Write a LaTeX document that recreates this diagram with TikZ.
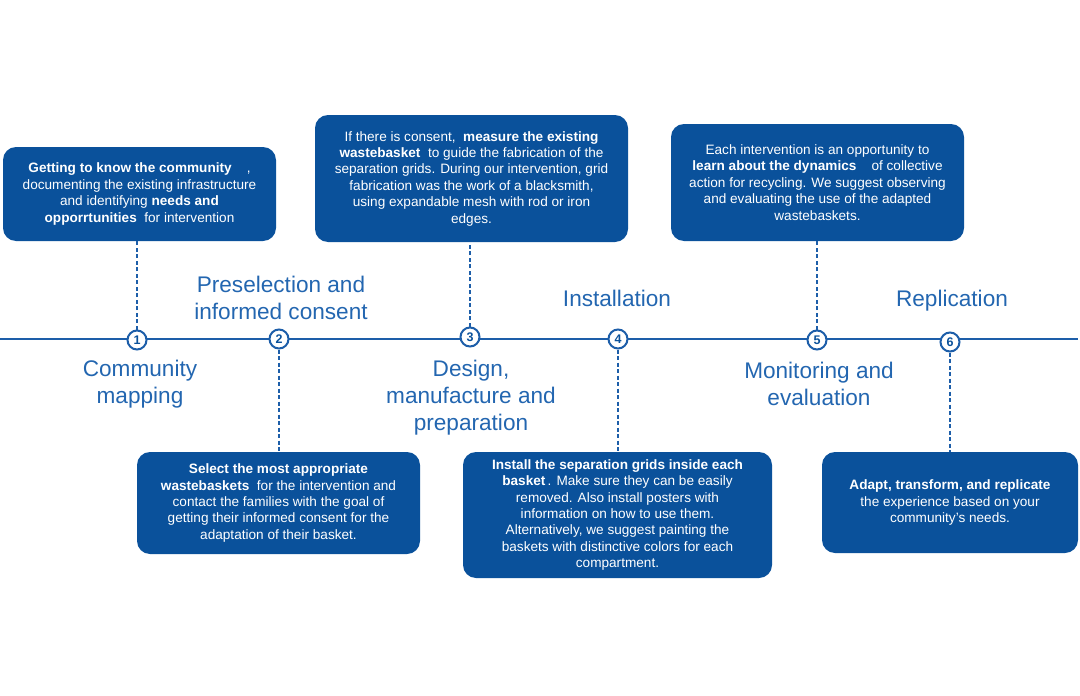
\documentclass[tikz,border=0pt]{standalone}
\usepackage{fontspec}
\setmainfont{Liberation Sans}
\usetikzlibrary{positioning}

\definecolor{boxblue}{HTML}{0A519B}
\definecolor{lineblue}{HTML}{1D5EA9}
\definecolor{textblue}{HTML}{2366B0}

\begin{document}
\begin{tikzpicture}[x=1pt,y=-1pt,
	box/.style={fill=boxblue, rounded corners=13pt, text=white, align=center,
		inner sep=0pt, font=\fontsize{13.6}{16.4}\selectfont},
	stepnum/.style={circle, draw=lineblue, line width=2pt, fill=white,
		minimum size=19pt, inner sep=0pt, text=boxblue,
		font=\fontsize{12.5}{12.5}\selectfont\bfseries},
	phase/.style={text=textblue, align=center, font=\fontsize{22.6}{27}\selectfont},
	link/.style={lineblue, line width=1.5pt, dash pattern=on 4pt off 2.5pt}]
	
	\useasboundingbox (0,0) rectangle (1080,696);
	
	% Linea de tiempo
	\draw[lineblue, line width=2pt] (0,339) -- (1078,339);
	
	% Cajas de texto
	\node[box, minimum width=273pt, minimum height=94pt] (b1) at (139.5,194)
		{\textbf{Getting to know the community}\ \ \ \ ,\\
		documenting the existing infrastructure\\
		and identifying \textbf{needs and}\\
		\textbf{opporrtunities}\ \ for intervention};
	\node[box, minimum width=283pt, minimum height=102pt] (b2) at (278.5,503)
		{\textbf{Select the most appropriate}\\
		\textbf{wastebaskets}\ \ for the intervention and\\
		contact the families with the goal of\\
		getting their informed consent for the\\
		adaptation of their basket.};
	\node[box, minimum width=313pt, minimum height=127pt] (b3) at (471.5,178.5)
		{If there is consent,\ \ \textbf{measure the existing}\\
		\textbf{wastebasket}\ \ to guide the fabrication of the\\
		separation grids. During our intervention, grid\\
		fabrication was the work of a blacksmith,\\
		using expandable mesh with rod or iron\\
		edges.};
	\node[box, minimum width=309pt, minimum height=126pt] (b4) at (617.5,515)
		{\textbf{Install the separation grids inside each}\\
		\textbf{basket}\,. Make sure they can be easily\\
		removed. Also install posters with\\
		information on how to use them.\\
		Alternatively, we suggest painting the\\
		baskets with distinctive colors for each\\
		compartment.};
	\node[box, minimum width=293pt, minimum height=117pt] (b5) at (817.5,182.5)
		{Each intervention is an opportunity to\\
		\textbf{learn about the dynamics}\ \ \ \ of collective\\
		action for recycling. We suggest observing\\
		and evaluating the use of the adapted\\
		wastebaskets.};
	\node[box, minimum width=256pt, minimum height=101pt] (b6) at (950,502.5)
		{\textbf{Adapt, transform, and replicate}\\
		the experience based on your\\
		community's needs.};
	
	% Pasos numerados y lineas punteadas
	\foreach \n/\x/\y/\side in {1/137/340/south, 2/279/339/north, 3/470/337/south,
		4/618/339/north, 5/817/340/south, 6/950/342/north} {
		\node[stepnum] (s\n) at (\x,\y) {\n};
		\draw[link] (s\n) -- (s\n |- b\n.\side);
	}
	
	% Etapas
	\node[phase] (p1) at (140,384) {Community\\mapping};
	\node[phase] (p2) at (281,298) {Preselection and\\informed consent};
	\node[phase] (p3) at (471,398) {Design,\\manufacture and\\preparation};
	\node[phase] (p4) at (617,298.5) {Installation};
	\node[phase] (p5) at (819,384) {Monitoring and\\evaluation};
	\node[phase] (p6) at (952,300.5) {Replication};
	
\end{tikzpicture}
\end{document}
